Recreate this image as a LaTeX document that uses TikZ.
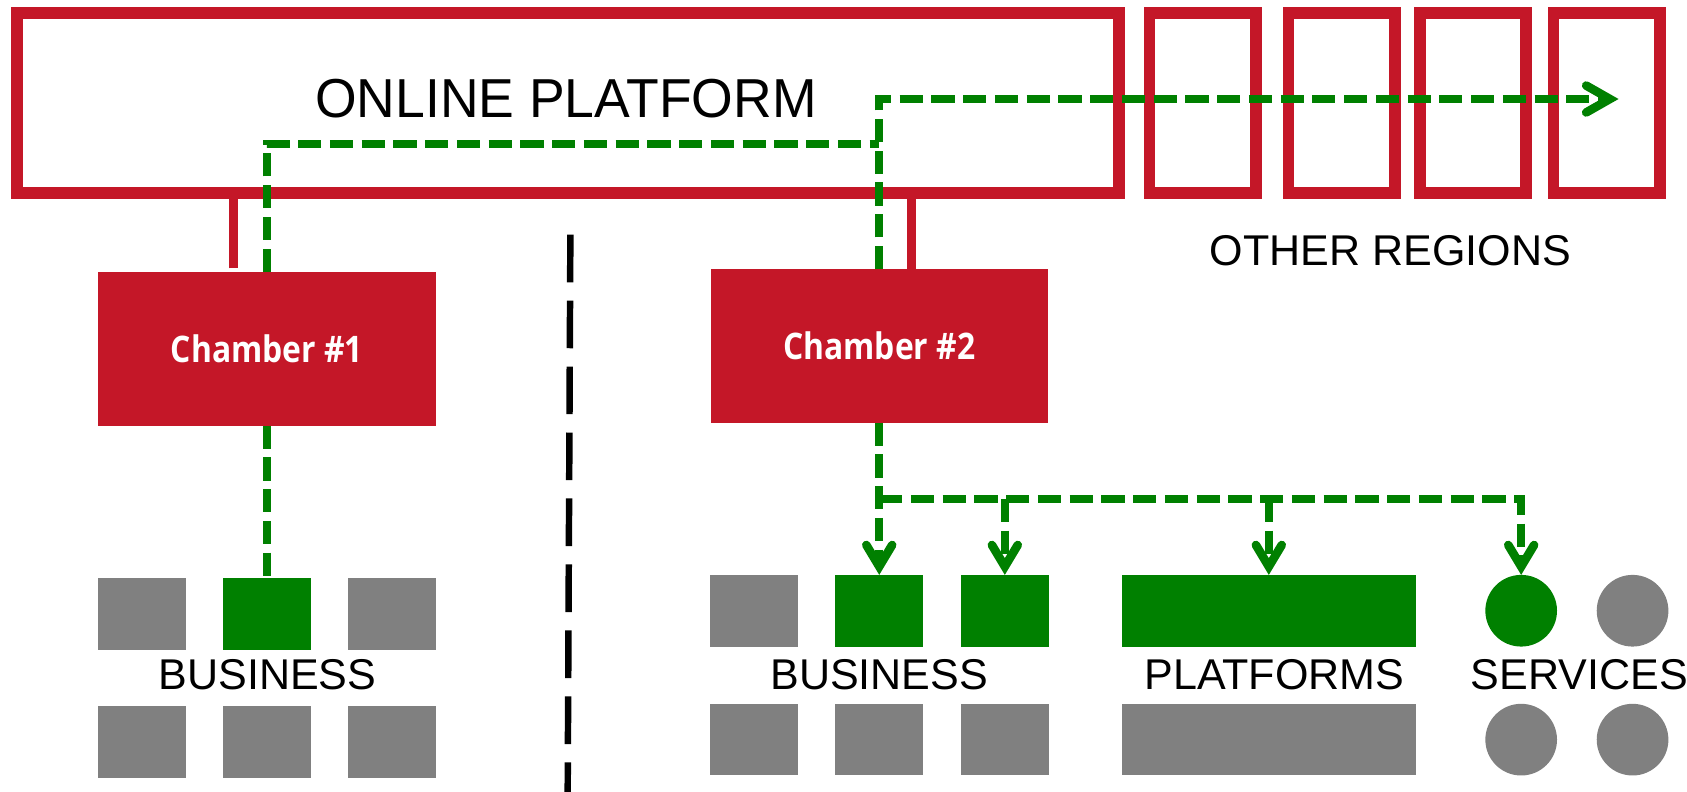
\documentclass[tikz,border=0pt]{standalone}
\usepackage{fontspec}
\usepackage{graphicx}
\setmainfont{Liberation Sans}
\newfontfamily\chfont{Open Sans}
\usetikzlibrary{arrows.meta}
\definecolor{cred}{RGB}{196,23,40}
\definecolor{cgreen}{RGB}{0,128,0}
\definecolor{cgray}{RGB}{128,128,128}
\begin{document}
\begin{tikzpicture}[x=1pt,y=-1pt,
  frame/.style={rectangle, draw=cred, line width=11pt, inner sep=0pt, fill=white},
  chamber/.style={rectangle, fill=cred, inner sep=0pt, outer sep=0pt, text=white,
    font=\chfont\bfseries\fontsize{34}{40}\selectfont},
  gsq/.style={rectangle, fill=cgreen, inner sep=0pt, outer sep=0pt, minimum width=81.5pt, minimum height=66.6pt},
  ysq/.style={rectangle, fill=cgray, inner sep=0pt, outer sep=0pt, minimum width=81.5pt, minimum height=66.6pt},
  gdot/.style={circle, fill=cgreen, inner sep=0pt, outer sep=0pt, minimum size=66.6pt},
  ydot/.style={circle, fill=cgray, inner sep=0pt, outer sep=0pt, minimum size=66.6pt},
  lbl/.style={anchor=base, inner sep=0pt, font=\fontsize{40}{48}\selectfont},
  gline/.style={draw=cgreen, line width=7.5pt, dash pattern=on 21.5pt off 8pt},
  garrow/.style={gline, -{Straight Barb[length=20pt, width=24pt, line width=8pt, line cap=round, line join=miter]}},
  garrowbig/.style={gline, -{Straight Barb[length=22pt, width=25pt, line width=8pt, line cap=round, line join=miter]}},
  rline/.style={draw=cred, line width=9pt},
  sepline/.style={draw=black, line width=6pt, dash pattern=on 44.3pt off 17pt}
]
\useasboundingbox (0,0) rectangle (1567.6,735.9);

% frames
\node[frame, minimum width=1024.5pt, minimum height=167.3pt] (plat) at (527.75,95.5) {};
\node[frame, minimum width=98.7pt, minimum height=167.3pt] (rg1) at (1117.5,95.5) {};
\node[frame, minimum width=98.7pt, minimum height=167.3pt] (rg2) at (1246.6,95.5) {};
\node[frame, minimum width=98.7pt, minimum height=167.3pt] (rg3) at (1368.7,95.5) {};
\node[frame, minimum width=98.7pt, minimum height=167.3pt] (rg4) at (1492.9,95.5) {};
\node[anchor=base, inner sep=0pt, font=\fontsize{51}{60}\selectfont] (ptitle) at (525.8,109) {\scalebox{.975}[1]{ONLINE PLATFORM}};
\node[lbl] (oreg) at (1292,246.8) {OTHER REGIONS};

% chambers
\node[chamber, minimum width=313.9pt, minimum height=143.1pt] (ch1) at (248,324) {\scalebox{.87}[1]{Chamber \#1}};
\node[chamber, minimum width=313pt, minimum height=142.7pt] (ch2) at (817,321.4) {\scalebox{.87}[1]{Chamber \#2}};

% left group
\node[ysq] (L1) at (131.7,570.3) {};
\node[gsq] (L2) at (248,570.3) {};
\node[ysq] (L3) at (364.4,570.3) {};
\node[ysq] (L4) at (131.7,689.2) {};
\node[ysq] (L5) at (248,689.2) {};
\node[ysq] (L6) at (364.4,689.2) {};
\node[lbl] (bl1) at (248.5,640.4) {BUSINESS};

% right group
\node[ysq] (R1) at (700.3,567.5) {};
\node[gsq] (R2) at (817,567.5) {};
\node[gsq] (R3) at (933.7,567.5) {};
\node[ysq] (R4) at (700.3,687.3) {};
\node[ysq] (R5) at (817,687.3) {};
\node[ysq] (R6) at (933.7,687.3) {};
\node[gsq, minimum width=272.9pt] (P1) at (1179,567.5) {};
\node[ysq, minimum width=272.9pt] (P2) at (1179,687.3) {};
\node[gdot] (C1) at (1413.5,567.5) {};
\node[ydot] (C2) at (1517,567.5) {};
\node[ydot] (C3) at (1413.5,687.3) {};
\node[ydot] (C4) at (1517,687.3) {};
\node[lbl] (bl2) at (817,640.4) {BUSINESS};
\node[lbl] (pl) at (1184.2,640.4) {PLATFORMS};
\node[lbl] (sv) at (1467.6,640.4) {SERVICES};

% separator
\coordinate (sepT) at (530,218);
\coordinate (sepB) at (527.5,736);
\draw[sepline] (sepT) -- (sepB);

% red connectors
\coordinate (ch1r) at ([xshift=-31pt,yshift=3pt]ch1.north);
\draw[rline] (ch1r) -- (ch1r |- plat.south);
\coordinate (ch2r) at ([xshift=30pt]ch2.north);
\draw[rline] (ch2r) -- (ch2r |- plat.south);

% green connectors
\coordinate (jlow) at (817,134);
\coordinate (otip) at (1504,92);
\draw[gline] (ch1.north) |- (jlow);
\draw[garrowbig] (ch2.north) |- (otip);
\draw[gline] (ch1.south) -- (L2.north);
\coordinate (hub) at (817,463.5);
\draw[garrow] (ch2.south) -- (R2.north);
\draw[garrow] (hub) -| (C1.north);
\draw[garrow] (hub -| R3.north) -- (R3.north);
\draw[garrow] (hub -| P1.north) -- (P1.north);
\end{tikzpicture}
\end{document}
